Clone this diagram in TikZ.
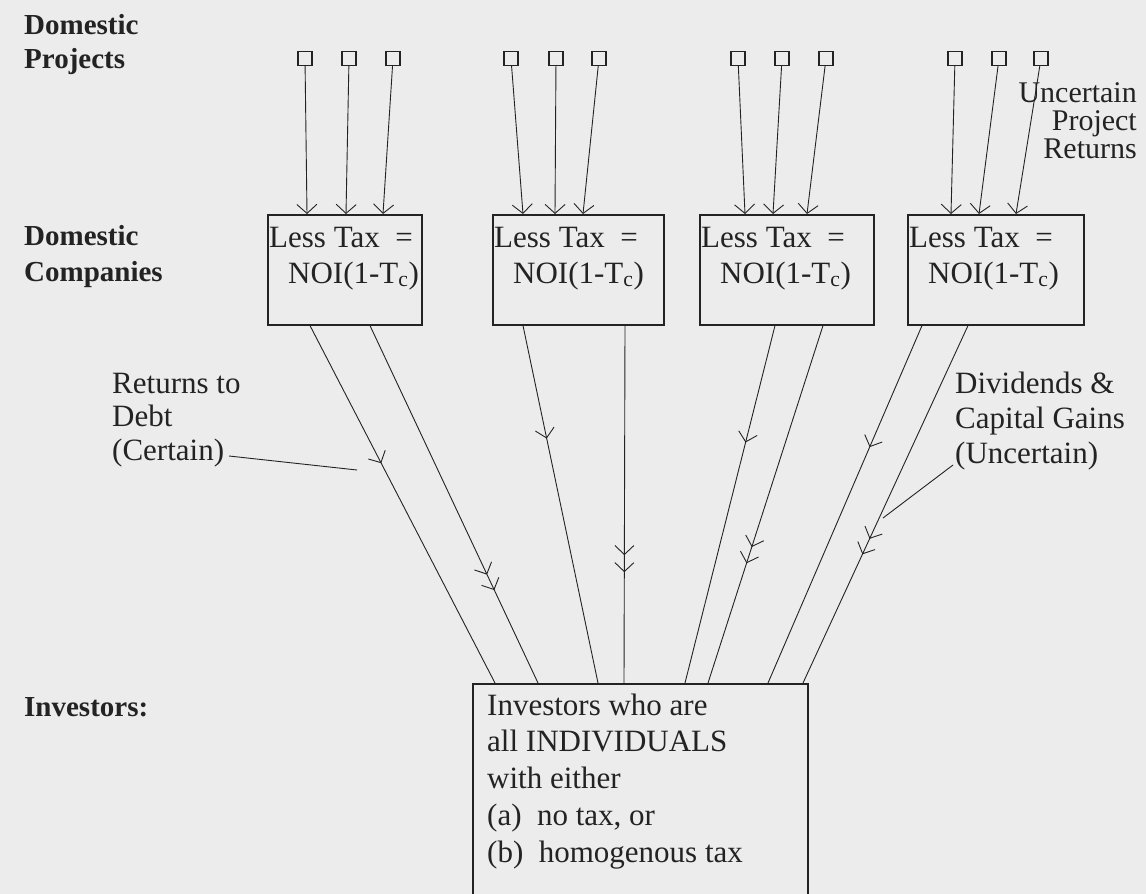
\documentclass[tikz,border=0pt]{standalone}
\usepackage{fontspec}
\setmainfont{Liberation Serif}
\usetikzlibrary{arrows.meta,decorations.markings}

\definecolor{paper}{RGB}{236,236,236}
\definecolor{ink}{RGB}{35,35,35}

\begin{document}
\begin{tikzpicture}[
  x=1pt, y=-1pt,
  every node/.style={text=ink},
  heading/.style={font=\fontsize{29}{34}\selectfont\bfseries, align=left, inner sep=0pt, anchor=base west},
  note/.style={font=\fontsize{31}{34}\selectfont, align=left, inner sep=0pt, anchor=base west},
  project/.style={draw=ink, line width=1.2pt, minimum size=14pt, inner sep=0pt},
  company/.style={draw=ink, line width=1.6pt, minimum height=110pt, anchor=north west, inner sep=0pt},
  ret/.style={draw=ink, line width=0.9pt},
  flow/.style={ret, -{Straight Barb[length=9pt,width=20pt]}},
  one/.style={ret, postaction={decorate}, decoration={markings,
    mark=at position #1 with {\arrow{Straight Barb[length=9pt,width=19pt]}}}},
  two/.style={ret, postaction={decorate}, decoration={markings,
    mark=at position #1 with {\arrow{Straight Barb[length=9pt,width=19pt,sep=7pt] Straight Barb[length=9pt,width=19pt]}}}}
]
\useasboundingbox (0,0) rectangle (1146,894);
\fill[paper] (0,0) rectangle (1146,894);

% row labels
\node[heading] (projects) at (24,68) {Domestic\\Projects};
\node[heading, font=\fontsize{29}{36}\selectfont\bfseries] (companies) at (24,281) {Domestic\\Companies};
\node[heading] (investors) at (24,716) {Investors:};

% projects
\foreach \g/\xa/\xb/\xc in {1/305/349/393, 2/511/556/599, 3/738/782/826, 4/955/999/1041} {
  \node[project] (p\g a) at (\xa,58.5) {};
  \node[project] (p\g b) at (\xb,58.5) {};
  \node[project] (p\g c) at (\xc,58.5) {};
}

% companies
\node[company, minimum width=154pt] (c1) at (267,214) {};
\node[company, minimum width=171pt] (c2) at (492,214) {};
\node[company, minimum width=174pt] (c3) at (699,214) {};
\node[company, minimum width=176pt] (c4) at (907,214) {};
\foreach \c in {1,...,4}
  \node[note, font=\fontsize{31}{36}\selectfont] (t\c) at ([xshift=2pt,yshift=-69pt]c\c.north west)
    {Less Tax\ \ =\\\hspace*{19pt}NOI(1-T\textsubscript{c})};

\foreach \g/\s/\o in {1/a/40, 1/b/79, 1/c/116, 2/a/31, 2/b/63, 2/c/91,
                      3/a/46, 3/b/74, 3/c/108, 4/a/44, 4/b/72, 4/c/109}
  \draw[flow] (p\g\s) -- ([xshift=\o pt]c\g.north west);

\node[note, align=right, anchor=base east, font=\fontsize{30}{28}\selectfont] (uncertain) at (1137,158)
  {Uncertain\\Project\\Returns};

% investors
\node[company, minimum width=335pt, minimum height=240pt] (inv) at (472,683) {};
\node[note, font=\fontsize{31}{36.75}\selectfont] (invtext) at ([xshift=15pt,yshift=-179pt]inv.north west)
  {Investors who are\\all INDIVIDUALS\\with either\\(a)\enspace no tax, or\\(b)\enspace homogenous tax};

% returns to investors
\draw[one=0.385] ([xshift=43pt]c1.south west) -- ([xshift=23pt]inv.north west);
\draw[two=0.74] ([xshift=103pt]c1.south west) -- ([xshift=66pt]inv.north west);
\draw[one=0.316] ([xshift=31pt]c2.south west) -- ([xshift=126pt]inv.north west);
\draw[two=0.69] ([xshift=133pt]c2.south west) -- ([xshift=152pt]inv.north west);
\draw[one=0.327] ([xshift=76pt]c3.south west) -- ([xshift=213pt]inv.north west);
\draw[two=0.665] ([xshift=124pt]c3.south west) -- ([xshift=236pt]inv.north west);
\draw[one=0.34] ([xshift=15pt]c4.south west) -- ([xshift=296pt]inv.north west);
\draw[two=0.64] ([xshift=61pt]c4.south west) -- ([xshift=331pt]inv.north west);

% labels on the returns
\node[note, font=\fontsize{31}{33.5}\selectfont] (debt) at (112,460) {Returns to\\Debt\\(Certain)};
\node[note, font=\fontsize{31}{35}\selectfont] (equity) at (955,463) {Dividends \&\\Capital Gains\\(Uncertain)};
\coordinate (debtfrom) at (229,456);
\coordinate (debtto) at (357,470);
\coordinate (eqfrom) at (953,465);
\coordinate (eqto) at (883,518);
\draw[ret] (debtfrom) -- (debtto);
\draw[ret] (eqfrom) -- (eqto);
\end{tikzpicture}
\end{document}
